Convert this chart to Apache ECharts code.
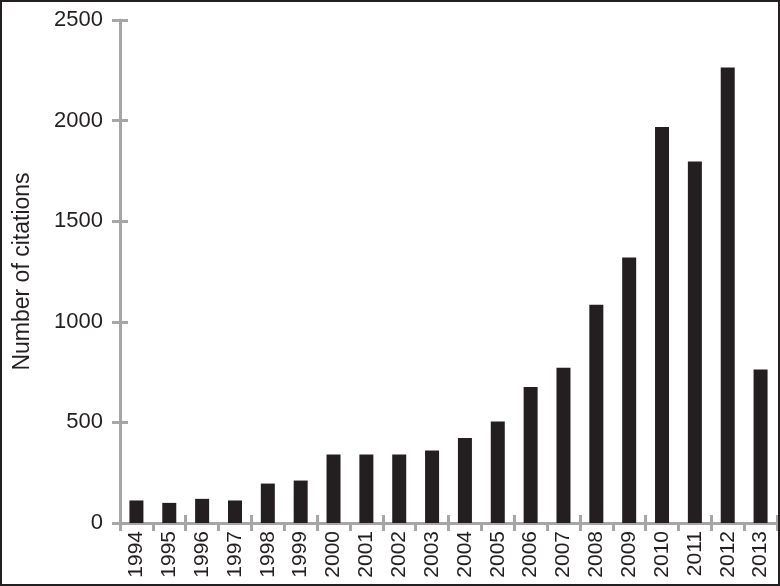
<!DOCTYPE html>
<html>
<head>
<meta charset="utf-8">
<script src="https://cdn.jsdelivr.net/npm/echarts@6/dist/echarts.min.js"></script>
<style>
  html, body { margin:0; padding:0; background:#fff; }
  #main { width:780px; height:586px; position:absolute; left:0; top:0; }
  #frame { position:absolute; left:0; top:0; width:780px; height:586px; box-sizing:border-box; border:2px solid #231f20; pointer-events:none; }
</style>
</head>
<body>
<div id="main"></div>
<div id="frame"></div>
<script>
// citations per year
const years = ['1994','1995','1996','1997','1998','1999','2000','2001','2002','2003',
               '2004','2005','2006','2007','2008','2009','2010','2011','2012','2013'];
const citations = [112, 100, 120, 112, 196, 211, 340, 340, 340, 360,
                   422, 504, 676, 772, 1085, 1320, 1968, 1797, 2264, 763];
const yTicks = [0, 500, 1000, 1500, 2000, 2500];

const axisGrey = '#a6a6a6';
const ink = '#231f20';
const font = 'Arial, "Liberation Sans", Helvetica, sans-serif';

const myChart = echarts.init(document.getElementById('main'));

myChart.setOption({
  animation: false,
  grid: { left: 120, right: 3, top: 20, bottom: 63 },
  xAxis: [{
    type: 'category',
    data: years,
    position: 'bottom',
    axisLine: { show: true, lineStyle: { color: axisGrey, width: 3 } },
    axisTick: { show: true, inside: false, length: 8, lineStyle: { color: axisGrey, width: 3 } },
    axisLabel: { rotate: 90, margin: 8, color: ink, fontSize: 21, fontFamily: font, interval: 0 }
  }, {
    // second axis only for the inner half of the crossing ticks
    type: 'category',
    data: years,
    position: 'bottom',
    axisLine: { show: false },
    axisTick: { show: true, inside: true, length: 8, lineStyle: { color: axisGrey, width: 3 } },
    axisLabel: { show: false }
  }],
  yAxis: [{
    type: 'value',
    min: yTicks[0],
    max: yTicks[yTicks.length - 1],
    interval: 500,
    name: 'Number of citations',
    nameLocation: 'middle',
    nameGap: 86,
    nameTextStyle: { color: ink, fontSize: 23, fontFamily: font },
    axisLine: { show: true, lineStyle: { color: axisGrey, width: 3 } },
    axisTick: { show: true, inside: false, length: 8, lineStyle: { color: axisGrey, width: 3 } },
    splitLine: { show: false },
    axisLabel: { margin: 17, color: ink, fontSize: 22, fontFamily: font, formatter: v => String(v) }
  }, {
    type: 'value',
    position: 'left',
    min: yTicks[0],
    max: yTicks[yTicks.length - 1],
    interval: 500,
    axisLine: { show: false },
    axisTick: { show: true, inside: true, length: 8, lineStyle: { color: axisGrey, width: 3 } },
    splitLine: { show: false },
    axisLabel: { show: false }
  }],
  series: [{
    type: 'bar',
    data: citations,
    barWidth: 14,
    itemStyle: { color: ink },
    z: 1
  }]
});
</script>
</body>
</html>
